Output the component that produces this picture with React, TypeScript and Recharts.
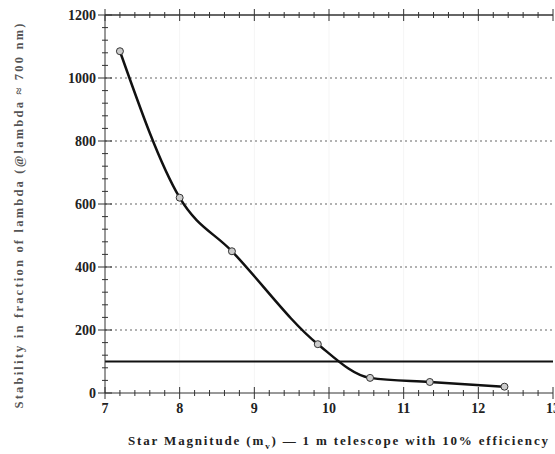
import React from "react";
import { LineChart, Line, XAxis, YAxis, ReferenceLine, Label } from "recharts";

const magnitudes = [7.2, 8.0, 8.7, 9.85, 10.55, 11.35, 12.35];
const stability = [1085, 620, 450, 155, 48, 35, 20];
const thresholdLevel = 100;

const xMajorTicks = [7, 8, 9, 10, 11, 12, 13];
const yMajorTicks = [0, 200, 400, 600, 800, 1000, 1200];
const yGridLines = [200, 400, 600, 800, 1000];
const xGridLines = [8, 9, 10, 11, 12];

const xAllTicks: number[] = [];
for (let i = 0; i <= 30; i++) xAllTicks.push(Math.round((7 + i * 0.2) * 10) / 10);
const yAllTicks: number[] = [];
for (let i = 0; i <= 30; i++) yAllTicks.push(i * 40);

const data = magnitudes.map((m, i) => ({ mag: m, value: stability[i] }));

const FONT = "'Liberation Serif', 'DejaVu Serif', serif";
const INK = "#222";

function BottomTick(props: any) {
  const { x, y, payload } = props;
  const major = xMajorTicks.includes(payload.value);
  const h = major ? 6 : 3;
  return (
    <g>
      <line x1={x} x2={x} y1={y - h} y2={y + h} stroke="#333" strokeWidth={1} />
      {major && (
        <text x={x} y={y + 20} textAnchor="middle" fontFamily={FONT} fontWeight="bold" fontSize={14} fill={INK}>
          {payload.value}
        </text>
      )}
    </g>
  );
}

function TopTick(props: any) {
  const { x, y, payload } = props;
  const major = xMajorTicks.includes(payload.value);
  const h = major ? 6 : 3;
  return <line x1={x} x2={x} y1={y - h} y2={y + h} stroke="#333" strokeWidth={1} />;
}

function LeftTick(props: any) {
  const { x, y, payload } = props;
  const major = yMajorTicks.includes(payload.value);
  const w = major ? 7 : 3;
  return (
    <g>
      <line x1={x - w} x2={x + w} y1={y} y2={y} stroke="#333" strokeWidth={1} />
      {major && (
        <text x={x - 9} y={y + 5} textAnchor="end" fontFamily={FONT} fontWeight="bold" fontSize={14} fill={INK}>
          {payload.value}
        </text>
      )}
    </g>
  );
}

function RightTick(props: any) {
  const { x, y, payload } = props;
  const major = yMajorTicks.includes(payload.value);
  const w = major ? 6 : 3;
  return <line x1={x - w} x2={x + w} y1={y} y2={y} stroke="#888" strokeWidth={1} />;
}

function XTitle(props: any) {
  const vb = props.viewBox;
  const cx = vb.x + vb.width / 2 + 9;
  return (
    <text x={cx} y={vb.y + 52} textAnchor="middle" fontFamily={FONT} fontWeight="bold" fontSize={13} fill={INK}
      textLength={420} lengthAdjust="spacing">
      <tspan>Star Magnitude (m</tspan>
      <tspan dy={4} fontSize={9}>v</tspan>
      <tspan dy={-4}>) — 1 m telescope with 10% efficiency</tspan>
    </text>
  );
}

function YTitle(props: any) {
  const vb = props.viewBox;
  const cy = vb.y + vb.height / 2 + 12;
  const cx = 19;
  return (
    <text x={cx} y={cy} transform={`rotate(-90 ${cx} ${cy})`} textAnchor="middle" dominantBaseline="central"
      fontFamily={FONT} fontWeight="bold" fontSize={12.5} fill="#555" textLength={385} lengthAdjust="spacing">
      Stability in fraction of lambda (@lambda ≈ 700 nm)
    </text>
  );
}

export default function App() {
  return (
    <div style={{ position: "absolute", left: 0, top: 0, width: 555, height: 454, background: "#fff" }}>
      <LineChart width={555} height={454} data={data} margin={{ top: 14, right: 2, bottom: 31, left: 45 }}>
        {xGridLines.map((v) => (
          <ReferenceLine key={"x" + v} xAxisId="bottom" yAxisId="left" x={v} stroke="#f5f5f5" />
        ))}
        {yGridLines.map((v) => (
          <ReferenceLine key={"y" + v} xAxisId="bottom" yAxisId="left" y={v} stroke="#666" strokeWidth={1.2}
            strokeDasharray="2 3" />
        ))}
        <XAxis xAxisId="bottom" dataKey="mag" type="number" domain={[7, 13]} ticks={xAllTicks}
          interval={0} tickSize={0} tickMargin={0} tickLine={false} tick={<BottomTick />}
          stroke="#333" height={30} allowDataOverflow>
          <Label content={<XTitle />} />
        </XAxis>
        <XAxis xAxisId="top" orientation="top" dataKey="mag" type="number" domain={[7, 13]} ticks={xAllTicks}
          interval={0} tickSize={0} tickMargin={0} tickLine={false} tick={<TopTick />}
          stroke="#333" strokeWidth={1.5} height={1} />
        <YAxis yAxisId="left" type="number" domain={[0, 1200]} ticks={yAllTicks} interval={0}
          tickSize={0} tickMargin={0} tickLine={false} tick={<LeftTick />} stroke="#333" width={60}>
          <Label content={<YTitle />} />
        </YAxis>
        <YAxis yAxisId="right" orientation="right" type="number" domain={[0, 1200]} ticks={yAllTicks}
          interval={0} tickSize={0} tickMargin={0} tickLine={false} tick={<RightTick />} stroke="#bbb" width={0} />
        <ReferenceLine xAxisId="bottom" yAxisId="left" y={thresholdLevel} stroke="#111" strokeWidth={2} />
        <Line xAxisId="bottom" yAxisId="left" type="monotone" dataKey="value" stroke="#111" strokeWidth={2.5}
          dot={{ r: 3.5, fill: "#ccc", stroke: "#333", strokeWidth: 1 }} isAnimationActive={false} />
      </LineChart>
    </div>
  );
}
